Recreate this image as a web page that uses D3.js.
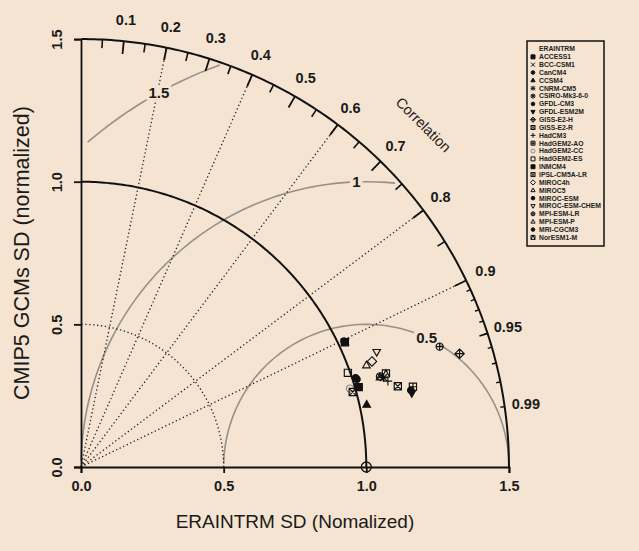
<!DOCTYPE html>
<html><head><meta charset="utf-8">
<script src="https://cdn.jsdelivr.net/npm/d3@7"></script>
<style>
body{margin:0;background:#f4e4d1;}
svg{display:block;font-family:"Liberation Sans",Arial,Helvetica,sans-serif;}
</style></head><body>
<svg id="chart" width="639" height="551"></svg>
<script>
// Taylor diagram: CMIP5 GCMs against ERAINTRM (normalized standard deviation, correlation)
const refName = "ERAINTRM";
const refSD = 1.0;
const maxSD = 1.5;
const models = ["ACCESS1","BCC-CSM1","CanCM4","CCSM4","CNRM-CM5","CSIRO-Mk3-6-0","GFDL-CM3","GFDL-ESM2M",
  "GISS-E2-H","GISS-E2-R","HadCM3","HadGEM2-AO","HadGEM2-CC","HadGEM2-ES","INMCM4","IPSL-CM5A-LR",
  "MIROC4h","MIROC5","MIROC-ESM","MIROC-ESM-CHEM","MPI-ESM-LR","MPI-ESM-P","MRI-CGCM3","NorESM1-M"];
const sdValues   = [1.023,1.026,1.012,1.025,1.106,1.095,1.015,1.188,1.385,1.146,1.117,1.197,0.982,0.992,1.013,0.988,1.085,1.062,1.022,1.112,1.326,1.094,1.187,1.118];
const corrValues = [0.904,0.904,0.951,0.977,0.959,0.957,0.953,0.976,0.958,0.969,0.963,0.972,0.960,0.943,0.961,0.964,0.940,0.942,0.902,0.932,0.948,0.958,0.974,0.956];
const symbols = ["fsquare","x","fcircle","ftriangle","star","circlex","fcircle","fdowntri",
  "diamondplus","squarex","plus","squareplus","circle","square","fsquare","squarex",
  "diamond","triangle","fcircle","downtri","circleplus","triangle","fcircle","squaretri"];
const grayModels = ["HadGEM2-CC"];
const axisTicks = [0, 0.5, 1.0, 1.5];
const corrLabels = [0.1,0.2,0.3,0.4,0.5,0.6,0.7,0.8,0.9,0.95,0.99];
const corrBigTicks = [0.1,0.2,0.3,0.4,0.5,0.6,0.7,0.8,0.9];
const corrMedTicks = [0.05,0.15,0.25,0.35,0.45,0.55,0.65,0.75,0.85,0.95];
const corrSmlTicks = [0.91,0.92,0.93,0.94,0.95,0.96,0.97,0.98,0.99];
const corrLines = [0.2,0.4,0.6,0.8,0.9];
const sdArcs = [0.5];
const rmsLevels = [0.5, 1, 1.5];
const rmsLabelAngles = [65, 92, 119]; // degrees around the reference point

const bg = "#f4e4d1";
const svg = d3.select("#chart");
svg.append("rect").attr("width",639).attr("height",551).attr("fill",bg);

const ox = 81, oy = 467, unit = 285.3;
const x = d3.scaleLinear().domain([0, maxSD]).range([ox, ox + unit*maxSD]);
const y = d3.scaleLinear().domain([0, maxSD]).range([oy, oy - unit*maxSD]);
const polar = (r, c) => [x(r*c), y(r*Math.sqrt(Math.max(0,1-c*c)))];
const line = d3.line().x(d => x(d[0])).y(d => y(d[1]));

const g = svg.append("g");

// RMS difference arcs about the reference point (sampled as in plotrix)
rmsLevels.forEach((gm, k) => {
  const pts = [];
  for (let i = 0; i < 105; i++) { const t = i*0.03; pts.push([Math.cos(t)*gm + refSD, Math.sin(t)*gm]); }
  const bad = pts.map((p,i)=> p[0]*p[0]+p[1]*p[1] > maxSD*maxSD ? i : -1).filter(i=>i>=0);
  const neg = pts.map((p,i)=> p[0] < 0 ? i : -1).filter(i=>i>=0);
  const s = bad.length ? d3.max(bad)+1 : 0;
  const e = neg.length ? d3.min(neg)-1 : 104;
  g.append("path").attr("d", line(pts.slice(s, e+1))).attr("fill","none")
    .attr("stroke","#96918b").attr("stroke-width",1.6);
});

// dotted standard deviation arc
sdArcs.forEach(r => {
  const pts = d3.range(0, Math.PI/2 + 0.001, 0.01).map(t => [Math.cos(t)*r, Math.sin(t)*r]);
  g.append("path").attr("d", line(pts)).attr("fill","none").attr("stroke","#222")
    .attr("stroke-width",1.3).attr("stroke-dasharray","1.3,2.6");
});

// dotted correlation rays
corrLines.forEach(c => {
  const [x2, y2] = polar(maxSD, c);
  g.append("line").attr("x1",x(0)).attr("y1",y(0)).attr("x2",x2).attr("y2",y2)
    .attr("stroke","#222").attr("stroke-width",1.3).attr("stroke-dasharray","1.3,2.6");
});

// reference and outer arcs
[refSD, maxSD].forEach(r => {
  const pts = d3.range(0, 158).map(i => { const t = Math.min(i*0.01, Math.PI/2); return [Math.cos(t)*r, Math.sin(t)*r]; });
  g.append("path").attr("d", line(pts)).attr("fill","none").attr("stroke","#111").attr("stroke-width",2);
});

// correlation ticks
const tick = (list, frac, w) => list.forEach(c => {
  const [x1,y1] = polar(maxSD, c), [x2,y2] = polar(maxSD*frac, c);
  g.append("line").attr("x1",x1).attr("y1",y1).attr("x2",x2).attr("y2",y2).attr("stroke","#111").attr("stroke-width",w);
});
tick(corrBigTicks, 0.97, 1.8);
tick(corrMedTicks, 0.98, 1.6);
tick(corrSmlTicks, 0.99, 1.4);

// correlation labels
corrLabels.forEach(c => {
  const [lx, ly] = polar(maxSD*1.05, c);
  g.append("text").attr("x",lx).attr("y",ly).attr("dy","0.35em").attr("text-anchor","middle")
    .attr("font-size",14.5).attr("font-weight","bold").attr("fill","#1a1a1a").text(c);
});
g.append("text").attr("transform",`translate(${x(maxSD*0.8)},${y(maxSD*0.8)}) rotate(45)`)
  .attr("text-anchor","middle").attr("dy","0.35em").attr("font-size",14.5).attr("fill","#1a1a1a").text("Correlation");

// RMS labels, boxed on the background colour
rmsLevels.forEach((gm, k) => {
  const a = rmsLabelAngles[k]*Math.PI/180;
  const lx = x(refSD + Math.cos(a)*gm), ly = y(Math.sin(a)*gm);
  const t = g.append("text").attr("x",lx).attr("y",ly).attr("dy","0.35em").attr("text-anchor","middle")
    .attr("font-size",15).attr("font-weight","bold").attr("fill","#1a1a1a").text(gm);
  const b = t.node().getBBox();
  g.insert("rect", () => t.node()).attr("x",b.x-2).attr("y",b.y+1).attr("width",b.width+4).attr("height",b.height-2).attr("fill",bg);
});

// axes
const xAxis = d3.axisBottom(x).tickValues(axisTicks).tickFormat(d3.format(".1f")).tickSizeOuter(0).tickSize(6).tickPadding(8);
const yAxis = d3.axisLeft(y).tickValues(axisTicks).tickFormat(d3.format(".1f")).tickSizeOuter(0).tickSize(7).tickPadding(8);
const gx = svg.append("g").attr("transform",`translate(0,${oy})`).call(xAxis);
const gy = svg.append("g").attr("transform",`translate(${ox},0)`).call(yAxis);
[gx, gy].forEach(a => {
  a.select(".domain").attr("stroke","#111").attr("stroke-width",1.8);
  a.selectAll(".tick line").attr("stroke","#111").attr("stroke-width",1.8);
  a.selectAll("text").attr("font-size",14.5).attr("font-weight","bold").attr("fill","#1a1a1a")
    .attr("font-family",'"Liberation Sans",Arial,sans-serif');
});
gy.selectAll(".tick text").attr("text-anchor","middle").attr("x",0)
  .attr("transform","translate(-24,0) rotate(-90)").attr("dy","0.35em");

svg.append("text").attr("x",(x(0)+x(maxSD))/2).attr("y",528).attr("text-anchor","middle")
  .attr("font-size",19).attr("fill","#1a1a1a").text("ERAINTRM SD (Nomalized)");
svg.append("text").attr("transform",`translate(21,${(y(0)+y(maxSD))/2}) rotate(-90)`).attr("text-anchor","middle")
  .attr("dy","0.35em").attr("font-size",21.5).attr("fill","#1a1a1a").text("CMIP5 GCMs SD (normalized)");

// marker shapes
function drawSymbol(sel, type, s, col) {
  const st = {stroke: col, "stroke-width": Math.max(1, s*0.32), fill: "none"};
  const add = (tag, attrs, fill) => { const e = sel.append(tag); Object.entries(st).forEach(([k,v])=>e.attr(k,v)); Object.entries(attrs).forEach(([k,v])=>e.attr(k,v)); if (fill) e.attr("fill", col); return e; };
  const tri = (d) => `M0,${-s*1.15*d}L${s*1.05},${s*0.7*d}L${-s*1.05},${s*0.7*d}Z`;
  const sq = `M${-s},${-s}H${s}V${s}H${-s}Z`, dm = `M0,${-s*1.3}L${s*1.3},0L0,${s*1.3}L${-s*1.3},0Z`;
  const xs = `M${-s},${-s}L${s},${s}M${-s},${s}L${s},${-s}`, ps = `M${-s*1.2},0H${s*1.2}M0,${-s*1.2}V${s*1.2}`;
  switch (type) {
    case "fsquare": add("path",{d:sq},true); break;
    case "square": add("path",{d:sq}); break;
    case "squarex": add("path",{d:sq+xs}); break;
    case "squareplus": add("path",{d:sq+`M${-s},0H${s}M0,${-s}V${s}`}); break;
    case "squaretri": add("path",{d:sq+`M${-s},${s}L0,${-s}L${s},${s}`}); break;
    case "fcircle": add("circle",{r:s*0.9},true); break;
    case "circle": add("circle",{r:s}); break;
    case "circlex": add("circle",{r:s}); add("path",{d:`M${-s*0.7},${-s*0.7}L${s*0.7},${s*0.7}M${-s*0.7},${s*0.7}L${s*0.7},${-s*0.7}`}); break;
    case "circleplus": add("circle",{r:s}); add("path",{d:`M${-s},0H${s}M0,${-s}V${s}`}); break;
    case "ftriangle": add("path",{d:tri(1)},true); break;
    case "triangle": add("path",{d:tri(1)}); break;
    case "fdowntri": add("path",{d:tri(-1)},true); break;
    case "downtri": add("path",{d:tri(-1)}); break;
    case "diamond": add("path",{d:dm}); break;
    case "diamondplus": add("path",{d:dm+`M${-s*1.3},0H${s*1.3}M0,${-s*1.3}V${s*1.3}`}); break;
    case "x": add("path",{d:xs}); break;
    case "plus": add("path",{d:ps}); break;
    case "star": add("path",{d:xs+ps}); break;
  }
}

// reference point
svg.append("circle").attr("cx",x(refSD)).attr("cy",y(0)).attr("r",5).attr("fill","none").attr("stroke","#111").attr("stroke-width",1.3);

// model points
const pts = svg.append("g");
models.forEach((m, i) => {
  const [px, py] = polar(sdValues[i], corrValues[i]);
  const col = grayModels.includes(m) ? "#8a8a8a" : "#111";
  drawSymbol(pts.append("g").attr("transform",`translate(${px},${py})`), symbols[i], 3.6, col);
});

// legend
const lg = svg.append("g").attr("transform","translate(527,41)");
const rowH = 7.85;
lg.append("rect").attr("width",77).attr("height",205).attr("fill",bg).attr("stroke","#111").attr("stroke-width",1.5);
lg.append("text").attr("x",12).attr("y",8).attr("dy","0.35em").attr("font-size",6.8).attr("font-weight","bold").attr("fill","#222").text(refName);
models.forEach((m, i) => {
  const yy = 8 + rowH*(i+1);
  const col = grayModels.includes(m) ? "#8a8a8a" : "#111";
  drawSymbol(lg.append("g").attr("transform",`translate(6,${yy})`), symbols[i], 2, col);
  lg.append("text").attr("x",12).attr("y",yy).attr("dy","0.35em").attr("font-size",6.8).attr("font-weight","bold").attr("fill","#222").text(m);
});
</script>
</body></html>
